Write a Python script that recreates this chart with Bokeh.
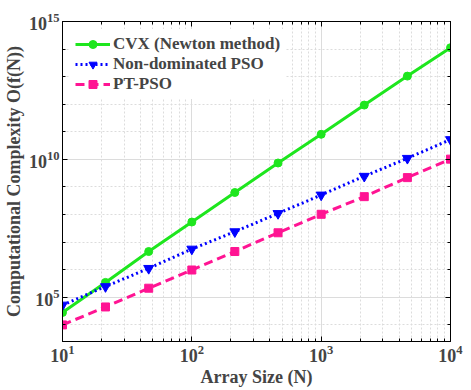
import numpy as np
from bokeh.plotting import figure
from bokeh.models import (FixedTicker, Legend, LegendItem, Range1d, LogAxis)
from bokeh.embed import file_html
from bokeh.resources import INLINE

# ---- data ----
array_size = [10, 21.5, 46.4, 100, 215, 464, 1000, 2154, 4642, 10000]
cvx_exp = [4.45, 5.54, 6.66, 7.73, 8.80, 9.87, 10.91, 11.97, 13.02, 14.05]
nd_pso_exp = [4.72, 5.39, 6.05, 6.75, 7.38, 8.04, 8.71, 9.39, 10.04, 10.72]
pt_pso_exp = [4.00, 4.65, 5.33, 5.99, 6.66, 7.34, 8.01, 8.65, 9.34, 10.01]
cvx = [10 ** e for e in cvx_exp]
nd_pso = [10 ** e for e in nd_pso_exp]
pt_pso = [10 ** e for e in pt_pso_exp]

x_major = [10, 100, 1000, 10000]
x_minor = [k * 10 ** d for d in range(1, 4) for k in range(2, 10)]
y_major = [1e5, 1e10, 1e15]
y_minor = [10.0 ** d for d in range(4, 15)]

FONT = "Times New Roman"

p = figure(width=463, height=389, x_axis_type="log", y_axis_type="log",
           x_range=Range1d(10, 1e4), y_range=Range1d(2.5e3, 1e15),
           output_backend="svg", toolbar_location=None,
           min_border_left=60, min_border_right=13, min_border_top=21,
           min_border_bottom=47)
p.outline_line_color = "black"
p.outline_line_width = 1

for ax in (p.xaxis[0], p.yaxis[0]):
    ax.major_label_text_font = FONT
    ax.major_label_text_font_style = "bold"
    ax.major_label_text_font_size = "18px"
    ax.axis_label_text_font = FONT
    ax.axis_label_text_font_style = "bold"
    ax.axis_label_text_font_size = "18px"
    ax.major_tick_in = 5
    ax.major_tick_out = 0
    ax.minor_tick_in = 3
    ax.minor_tick_out = 0
    ax.axis_line_color = "black"
    ax.major_label_standoff = 3
    ax.axis_label_standoff = 2

p.xaxis[0].ticker = FixedTicker(ticks=x_major, minor_ticks=x_minor)
p.yaxis[0].ticker = FixedTicker(ticks=y_major, minor_ticks=y_minor)
p.xaxis[0].axis_label = "Array Size (N)"
p.yaxis[0].axis_label = "Computational Complexity O(f(N))"

# box ticks on top and right (labels hidden)
for side, tk in (("above", FixedTicker(ticks=x_major, minor_ticks=x_minor)),
                 ("right", FixedTicker(ticks=y_major, minor_ticks=y_minor))):
    extra = LogAxis(ticker=tk, major_tick_in=5, major_tick_out=0,
                    minor_tick_in=3, minor_tick_out=0,
                    major_label_text_alpha=0, major_label_text_font_size="6px",
                    major_label_standoff=0)
    p.add_layout(extra, side)

p.xgrid.ticker = FixedTicker(ticks=x_major, minor_ticks=x_minor)
p.ygrid.ticker = FixedTicker(ticks=y_major, minor_ticks=y_minor)
for g in (p.xgrid[0], p.ygrid[0]):
    g.grid_line_color = "#dcdcdc"
    g.grid_line_width = 1
    g.minor_grid_line_color = "#dcdcdc"
    g.minor_grid_line_dash = "2 2"
    g.minor_grid_line_width = 1

green = "#1ee61e"
blue = "#0000ff"
pink = "#ff1493"

l1 = p.line(array_size, cvx, line_color=green, line_width=3)
m1 = p.scatter(array_size, cvx, marker="circle", size=8, fill_color=green, line_color=green)
l2 = p.line(array_size, nd_pso, line_color=blue, line_width=3, line_dash="2 3")
m2 = p.scatter(array_size, nd_pso, marker="inverted_triangle", size=10, fill_color=blue, line_color=blue)
l3 = p.line(array_size, pt_pso, line_color=pink, line_width=3, line_dash="9 5")
m3 = p.scatter(array_size, pt_pso, marker="square", size=8, fill_color=pink, line_color=pink)

legend = Legend(items=[
    LegendItem(label="CVX (Newton method)", renderers=[l1, m1]),
    LegendItem(label="Non-dominated PSO", renderers=[l2, m2]),
    LegendItem(label="PT-PSO", renderers=[l3, m3]),
], location="top_left")
legend.label_text_font = FONT
legend.label_text_font_style = "bold"
legend.label_text_font_size = "17px"
legend.border_line_alpha = 0
legend.background_fill_color = "white"
legend.background_fill_alpha = 1
legend.glyph_width = 35
legend.glyph_height = 20
legend.label_height = 20
legend.spacing = 0
legend.padding = 5
legend.margin = 8
legend.label_standoff = 3
p.add_layout(legend)

open("out.html", "w").write(file_html(p, INLINE))
